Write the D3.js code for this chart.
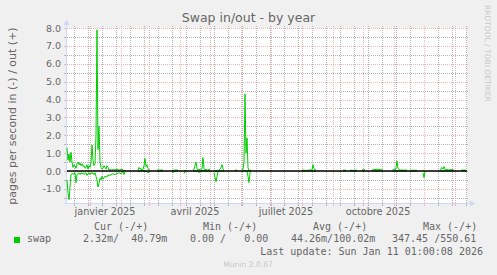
<!DOCTYPE html>
<html>
<head>
<meta charset="utf-8">
<script src="https://cdn.jsdelivr.net/npm/d3@7"></script>
<style>
  body { margin: 0; background: #f0f0f0; }
  svg { display: block; }
</style>
</head>
<body>
<div id="chart"></div>
<script>
// swap in/out, one point per day (null = no data)
const dates = [
  "2024-12-09","2024-12-10","2024-12-11","2024-12-12","2024-12-13","2024-12-14","2024-12-15","2024-12-16",
  "2024-12-17","2024-12-18","2024-12-19","2024-12-20","2024-12-21","2024-12-22","2024-12-23","2024-12-24",
  "2024-12-25","2024-12-26","2024-12-27","2024-12-28","2024-12-29","2024-12-30","2024-12-31","2025-01-01",
  "2025-01-02","2025-01-03","2025-01-04","2025-01-05","2025-01-06","2025-01-07","2025-01-08","2025-01-09",
  "2025-01-10","2025-01-11","2025-01-12","2025-01-13","2025-01-14","2025-01-15","2025-01-16","2025-01-17",
  "2025-01-18","2025-01-19","2025-01-20","2025-01-21","2025-01-22","2025-01-24","2025-01-26","2025-01-28",
  "2025-01-30","2025-02-01","2025-02-02","2025-02-03","2025-02-04","2025-02-05","2025-02-06",
  "2025-02-18","2025-02-19","2025-02-20","2025-02-21","2025-02-22","2025-02-23","2025-02-24","2025-02-25",
  "2025-02-26","2025-02-27","2025-02-28","2025-03-01","2025-03-02","2025-03-03",
  "2025-03-09","2025-03-15","2025-03-16",
  "2025-03-24","2025-03-25","2025-03-26","2025-03-30","2025-03-31",
  "2025-04-05","2025-04-06","2025-04-07","2025-04-08",
  "2025-04-14","2025-04-15","2025-04-16","2025-04-17","2025-04-18","2025-04-19","2025-04-20","2025-04-21",
  "2025-04-22","2025-04-23","2025-04-24","2025-04-25","2025-04-26","2025-04-27","2025-04-28","2025-04-29",
  "2025-04-30","2025-05-01","2025-05-02",
  "2025-05-05","2025-05-06","2025-05-07","2025-05-08","2025-05-09","2025-05-10","2025-05-11","2025-05-12",
  "2025-05-13","2025-05-14","2025-05-15","2025-05-16",
  "2025-05-26","2025-05-28","2025-05-29",
  "2025-06-02","2025-06-03","2025-06-04","2025-06-05","2025-06-06","2025-06-07","2025-06-08","2025-06-09",
  "2025-06-10","2025-06-11","2025-06-12",
  "2025-08-01","2025-08-05","2025-08-08","2025-08-11","2025-08-12","2025-08-13","2025-08-14","2025-08-15",
  "2025-08-16",
  "2025-09-11","2025-09-14","2025-09-15",
  "2025-09-18","2025-09-21","2025-09-25","2025-09-26",
  "2025-09-30","2025-10-03","2025-10-04",
  "2025-10-10","2025-10-13","2025-10-16","2025-10-18","2025-10-21","2025-10-22",
  "2025-10-30","2025-10-31","2025-11-01","2025-11-02","2025-11-03","2025-11-04","2025-11-05","2025-11-06",
  "2025-11-07","2025-11-10","2025-11-14","2025-11-15",
  "2025-11-17","2025-11-24","2025-11-25",
  "2025-11-30","2025-12-01","2025-12-02","2025-12-03",
  "2025-12-17","2025-12-18","2025-12-19","2025-12-20","2025-12-21","2025-12-22","2025-12-23","2025-12-24",
  "2025-12-25","2025-12-28","2025-12-31","2026-01-01",
  "2026-01-07","2026-01-12"
];

// out (+), pages per second
const swapOut = [
  1.30,0.60,0.95,0.50,1.05,0.50,0.20,0.35,
  0.30,0.15,0.40,0.50,0.35,0.45,0.30,0.40,
  0.25,0.30,0.15,0.20,0.35,0.10,0.30,0.20,
  0.50,1.45,0.60,0.30,0.40,2.00,7.90,1.20,
  2.50,0.50,0.20,0.10,0.15,0.30,0.20,0.10,
  0.30,0.20,0.05,0.10,0.05,0.08,0.05,0.10,
  0.05,0.08,0.10,0.05,0.02,0.05,null,
  0.05,0.20,0.10,0.15,0.05,0.10,0.30,0.70,
  0.25,0.35,0.15,0.05,0.05,null,
  0.05,0.05,null,
  0.05,0.02,0.05,0.05,null,
  0.00,0.02,0.02,null,
  0.05,0.10,0.30,0.50,0.15,0.05,0.10,0.05,
  0.05,0.10,0.75,0.15,0.05,0.10,0.05,0.05,
  0.10,0.05,null,
  0.00,0.00,0.00,0.00,0.00,0.05,0.10,0.20,
  0.35,0.10,0.05,null,
  0.05,0.05,null,
  0.05,0.10,0.50,4.30,1.00,1.85,0.20,0.00,
  0.05,0.05,null,
  0.05,0.03,0.05,0.05,0.35,0.15,0.05,0.05,
  null,
  0.05,0.05,null,
  0.05,0.03,0.05,null,
  0.07,0.07,null,
  0.05,0.08,0.10,0.08,0.05,null,
  0.03,0.05,0.10,0.05,0.20,0.55,0.15,0.10,
  0.05,0.05,0.05,null,
  0.04,0.04,null,
  0.00,0.00,0.00,null,
  0.05,0.15,0.20,0.10,0.25,0.10,0.05,0.10,
  0.05,0.08,0.05,null,
  0.05,0.05
];

// in (-), pages per second
const swapIn = [
  -0.50,-1.20,-1.60,-0.90,-0.20,-0.15,-0.15,-0.20,
  -0.10,-0.65,-0.20,-0.15,-0.10,-0.20,-0.10,-0.15,
  -0.10,-0.20,-0.15,-0.10,-0.25,-0.15,-0.10,-0.20,
  -0.10,-0.15,-0.10,-0.20,-0.10,-0.30,-0.50,-0.90,
  -0.70,-0.40,-0.50,-0.30,-0.45,-0.35,-0.30,-0.35,
  -0.25,-0.30,-0.20,-0.25,-0.20,-0.15,-0.20,-0.15,
  -0.10,-0.15,-0.10,-0.05,-0.20,-0.05,null,
  0,0,0,0,0,0,0,0,
  0,-0.05,-0.10,-0.05,0,null,
  0,0,null,
  0,-0.10,0,0,null,
  -0.15,-0.05,0,null,
  0,0,0,0,0,0,-0.10,0,
  0,0,0,0,0,0,0,0,
  0,-0.05,null,
  -0.10,-0.35,-0.60,-0.30,-0.05,0,0,0,
  0,0,0,null,
  0,0,null,
  0,0,0,0,0,0,-0.30,-0.65,
  -0.10,0,null,
  0,0,0,0,0,0,0,0,
  null,
  0,0,null,
  0,0,0,null,
  0,0,null,
  0,0,0,0,0,null,
  0,0,0,0,0,0,0,0,
  0,0,0,null,
  0,0,null,
  -0.10,-0.37,-0.05,null,
  0,0,0,0,0,0,0,0,
  0,0,0,null,
  0,0
];

const xStart = "2024-12-09";
const xEnd = "2026-01-13";
const yMin = -1.79;
const yMax = 8.0;
const yMajor = [-1, 0, 1, 2, 3, 4, 5, 6, 7, 8];
const yMinor = [-1.5, -0.5, 0.5, 1.5, 2.5, 3.5, 4.5, 5.5, 6.5, 7.5];
const monthLabels = ["janvier 2025", "avril 2025", "juillet 2025", "octobre 2025"];
const monthLabelDates = ["2025-01-16", "2025-04-16", "2025-07-16", "2025-10-16"];
const legendHeaders = ["Cur (-/+)", "Min (-/+)", "Avg (-/+)", "Max (-/+)"];
const swapStats = ["2.32m/  40.79m", "0.00 /   0.00", "44.26m/100.02m", "347.45 /550.61"];

const W = 497, H = 275;
const plot = {left: 67, right: 467, top: 28, bottom: 203};
const gridColor = "#b4b4b4";
const mgridColor = "#efb4b4";
const axisColor = "#cfd6f8";
const fontColor = "#666666";
const sans = "'DejaVu Sans', sans-serif";
const mono = "'DejaVu Sans Mono', monospace";

const parse = d3.timeParse("%Y-%m-%d");
const t0 = parse(xStart), t1 = parse(xEnd);

const x = d3.scaleTime().domain([t0, t1]).range([plot.left, plot.right]);
const y = d3.scaleLinear().domain([yMin, yMax]).range([plot.bottom, plot.top]);
const px = v => Math.round(v) + 0.5;

const svg = d3.select("#chart").append("svg")
    .attr("width", W)
    .attr("height", H)
    .style("background", "#f0f0f0");

svg.append("rect")
    .attr("x", plot.left).attr("y", plot.top)
    .attr("width", plot.right - plot.left)
    .attr("height", plot.bottom - plot.top)
    .attr("fill", "#fff");

// vertical grid: every other monday (minor), month starts (major)
const minorDays = d3.timeMonday.range(parse("2024-12-02"), t1)
    .filter((d, i) => i % 2 === 0 && d >= t0);
const majorDays = d3.timeMonth.range(t0, t1);

function vgrid(days, color) {
    const g = svg.append("g");
    g.selectAll("line.g").data(days).enter().append("line")
        .attr("x1", d => px(x(d))).attr("x2", d => px(x(d)))
        .attr("y1", plot.top - 2).attr("y2", plot.bottom)
        .attr("stroke", color).attr("stroke-dasharray", "1,1");
    g.selectAll("line.t").data(days).enter().append("line")
        .attr("x1", d => px(x(d))).attr("x2", d => px(x(d)))
        .attr("y1", plot.bottom).attr("y2", plot.bottom + 3)
        .attr("stroke", color);
}
function hgrid(vals, color) {
    const g = svg.append("g");
    g.selectAll("line.g").data(vals).enter().append("line")
        .attr("x1", plot.left).attr("x2", plot.right + 2)
        .attr("y1", d => px(y(d))).attr("y2", d => px(y(d)))
        .attr("stroke", color).attr("stroke-dasharray", "1,1");
    g.selectAll("line.t").data(vals).enter().append("line")
        .attr("x1", plot.left - 3).attr("x2", plot.left)
        .attr("y1", d => px(y(d))).attr("y2", d => px(y(d)))
        .attr("stroke", color);
}
vgrid(minorDays, gridColor);
hgrid(yMinor, gridColor);
vgrid(majorDays, mgridColor);
hgrid(yMajor, mgridColor);

// axes with arrows
svg.append("line")
    .attr("x1", plot.left - 0.5).attr("x2", plot.left - 0.5)
    .attr("y1", plot.bottom + 1).attr("y2", plot.top - 5)
    .attr("stroke", axisColor);
svg.append("line")
    .attr("x1", plot.left - 3).attr("x2", plot.right + 4)
    .attr("y1", plot.bottom + 0.5).attr("y2", plot.bottom + 0.5)
    .attr("stroke", axisColor);
svg.append("path")
    .attr("d", `M${plot.left - 3.5},${plot.top - 3} L${plot.left - 0.5},${plot.top - 8} L${plot.left + 2.5},${plot.top - 3} Z`)
    .attr("fill", axisColor);
svg.append("path")
    .attr("d", `M${plot.right + 3},${plot.bottom - 2.5} L${plot.right + 8},${plot.bottom + 0.5} L${plot.right + 3},${plot.bottom + 3.5} Z`)
    .attr("fill", axisColor);

// tick labels
svg.append("g").selectAll("text").data(yMajor).enter().append("text")
    .attr("x", plot.left - 6)
    .attr("y", d => y(d) + 3.5)
    .attr("text-anchor", "end")
    .attr("font-family", sans).attr("font-size", "9.5px")
    .attr("fill", fontColor)
    .text(d => d.toFixed(1));

svg.append("g").selectAll("text").data(monthLabels).enter().append("text")
    .attr("x", (d, i) => x(parse(monthLabelDates[i])))
    .attr("y", 215)
    .attr("text-anchor", "middle")
    .attr("font-family", sans).attr("font-size", "9.7px")
    .attr("fill", fontColor)
    .text(d => d);

// data lines
const points = dates.map((d, i) => ({t: parse(d), out: swapOut[i], inn: swapIn[i]}));
const lineOut = d3.line()
    .defined(d => d.out !== null)
    .x(d => x(d.t)).y(d => y(d.out));
const lineIn = d3.line()
    .defined(d => d.inn !== null)
    .x(d => x(d.t)).y(d => y(d.inn));

const lines = svg.append("g")
    .attr("fill", "none")
    .attr("stroke", "#00cc00")
    .attr("stroke-width", 1);
lines.append("path").attr("d", lineIn(points));
lines.append("path").attr("d", lineOut(points));

// zero rule
svg.append("line")
    .attr("x1", x(t0)).attr("x2", x(t1))
    .attr("y1", y(0)).attr("y2", y(0))
    .attr("stroke", "#000").attr("stroke-width", 1.5);

// title and labels
svg.append("text")
    .attr("x", 248.5).attr("y", 22)
    .attr("text-anchor", "middle")
    .attr("font-family", sans).attr("font-size", "12.5px")
    .attr("fill", fontColor)
    .text("Swap in/out - by year");

svg.append("text")
    .attr("transform", "translate(16,116) rotate(-90)")
    .attr("text-anchor", "middle")
    .attr("font-family", sans).attr("font-size", "11px")
    .attr("fill", fontColor)
    .text("pages per second in (-) / out (+)");

svg.append("text")
    .attr("transform", "translate(485,5) rotate(90)")
    .attr("font-family", sans).attr("font-size", "7.5px")
    .attr("fill", "#c8c8c8")
    .text("RRDTOOL / TOBI OETIKER");

// legend
const headerX = [94, 203, 313, 423];
const statX = [83, 190, 291, 392];

svg.append("g").selectAll("text").data(legendHeaders).enter().append("text")
    .attr("x", (d, i) => headerX[i]).attr("y", 229.5)
    .attr("font-family", mono).attr("font-size", "10px")
    .attr("fill", fontColor)
    .style("white-space", "pre")
    .text(d => d);

svg.append("rect")
    .attr("x", 14).attr("y", 237)
    .attr("width", 6).attr("height", 6)
    .attr("fill", "#00cc00");

svg.append("text")
    .attr("x", 27).attr("y", 242)
    .attr("font-family", mono).attr("font-size", "10px")
    .attr("fill", fontColor)
    .text("swap");

svg.append("g").selectAll("text").data(swapStats).enter().append("text")
    .attr("x", (d, i) => statX[i]).attr("y", 242)
    .attr("font-family", mono).attr("font-size", "10px")
    .attr("fill", fontColor)
    .style("white-space", "pre")
    .text(d => d);

svg.append("text")
    .attr("x", 483).attr("y", 254.5)
    .attr("text-anchor", "end")
    .attr("font-family", mono).attr("font-size", "10px")
    .attr("fill", fontColor)
    .style("white-space", "pre")
    .text("Last update: Sun Jan 11 01:00:08 2026");

svg.append("text")
    .attr("x", 248).attr("y", 266.5)
    .attr("text-anchor", "middle")
    .attr("font-family", sans).attr("font-size", "7.6px")
    .attr("fill", "#c8c8c8")
    .text("Munin 2.0.67");
</script>
</body>
</html>
